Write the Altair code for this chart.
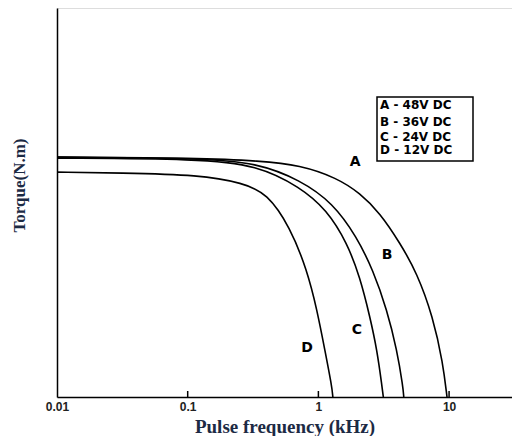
import altair as alt
import pandas as pd

# Curve data (frequency in kHz, torque in relative units)
freq_A = [0.01, 0.124, 0.357, 0.723, 1.39, 2.08, 2.96, 4.21, 5.68, 7.53, 8.98, 9.64]
torq_A = [0.617, 0.614, 0.607, 0.596, 0.563, 0.524, 0.473, 0.396, 0.319, 0.206, 0.087, 0.0]

freq_B = [0.01, 0.124, 0.339, 0.723, 1.29, 1.97, 2.62, 3.35, 3.99, 4.44, 4.5]
torq_B = [0.617, 0.614, 0.602, 0.558, 0.499, 0.411, 0.326, 0.224, 0.121, 0.026, 0.0]

freq_C = [0.01, 0.124, 0.339, 0.723, 1.16, 1.66, 2.08, 2.48, 2.81, 3.07, 3.14]
torq_C = [0.614, 0.612, 0.596, 0.540, 0.481, 0.396, 0.308, 0.206, 0.121, 0.026, 0.0]

freq_D = [0.01, 0.0303, 0.124, 0.265, 0.405, 0.607, 0.819, 0.976, 1.12, 1.27, 1.29]
torq_D = [0.578, 0.576, 0.571, 0.550, 0.524, 0.437, 0.326, 0.224, 0.121, 0.026, 0.0]

# Curve labels
label_text = ["A", "B", "C", "D"]
label_freq = [1.91, 3.35, 1.97, 0.818]
label_torq = [0.604, 0.365, 0.172, 0.126]

# Legend box entries
legend_lines = ["A - 48V DC", "B - 36V DC", "C - 24V DC", "D - 12V DC"]

# X tick values
tick_values = [0.01, 0.1, 1, 10]
inner_ticks = [0.1, 1, 10]

rows = []
for name, fs, ts in [("A", freq_A, torq_A), ("B", freq_B, torq_B),
                     ("C", freq_C, torq_C), ("D", freq_D, torq_D)]:
    for f, t in zip(fs, ts):
        rows.append({"series": name, "freq": f, "torque": t})
curves = pd.DataFrame(rows)
labels = pd.DataFrame({"text": label_text, "freq": label_freq, "torque": label_torq})
ticks_df = pd.DataFrame({"freq": inner_ticks})

W, H = 455, 389
xscale = alt.Scale(type="log", domain=[0.01, 30.3])
yscale = alt.Scale(domain=[0, 1])

xenc = alt.X("freq:Q", scale=xscale,
             axis=alt.Axis(values=tick_values, format="~g", tickSize=0, grid=False,
                           domainColor="black", domainWidth=1.5,
                           labelFont="Liberation Sans", labelFontWeight="bold",
                           labelFontSize=12, labelColor="#222222", labelPadding=4,
                           labelFlush=False,
                           title="Pulse frequency (kHz)", titleFont="Liberation Serif",
                           titleFontSize=19, titleFontWeight="bold",
                           titleColor="#1c2a44", titleBaseline="alphabetic",
                           titleY=35))
yenc = alt.Y("torque:Q", scale=yscale,
             axis=alt.Axis(labels=False, ticks=False, grid=False,
                           domainColor="black", domainWidth=1.5,
                           title="Torque(N.m)", titleFont="Liberation Serif",
                           titleFontSize=17, titleFontWeight="bold",
                           titleColor="#1c2a44", titlePadding=29, titleY=177))

lines = alt.Chart(curves).mark_line(color="black", strokeWidth=1.6,
                                    interpolate="basis").encode(
    x=xenc, y=yenc, detail="series:N")

texts = alt.Chart(labels).mark_text(font="DejaVu Sans", fontWeight="bold",
                                    fontSize=14, color="black").encode(
    x=alt.X("freq:Q", scale=xscale), y=alt.Y("torque:Q", scale=yscale),
    text="text:N")

tick_marks = alt.Chart(ticks_df).mark_rule(color="black", strokeWidth=1.5).encode(
    x=alt.X("freq:Q", scale=xscale), y=alt.value(H), y2=alt.value(H - 6))

box = alt.Chart(pd.DataFrame({"k": [0]})).mark_rect(
    fill="white", stroke="black", strokeWidth=1.5).encode(
    x=alt.value(320), x2=alt.value(416), y=alt.value(89), y2=alt.value(153))

legend_y = [97, 114, 129, 142]
legend_layers = []
for txt, yy in zip(legend_lines, legend_y):
    legend_layers.append(
        alt.Chart(pd.DataFrame({"text": [txt]})).mark_text(
            font="DejaVu Sans", fontWeight="bold", fontSize=12, color="black",
            align="left", baseline="middle").encode(
            x=alt.value(323), y=alt.value(yy), text="text:N"))

chart = alt.layer(lines, tick_marks, texts, box, *legend_layers).properties(
    width=W, height=H,
    padding={"left": 49, "top": 0, "right": 0, "bottom": 39},
    autosize=alt.AutoSizeParams(type="none"),
).configure_view(stroke=None).configure(background="white")

chart.save("out.html", embed_options={"renderer": "svg", "actions": False})
